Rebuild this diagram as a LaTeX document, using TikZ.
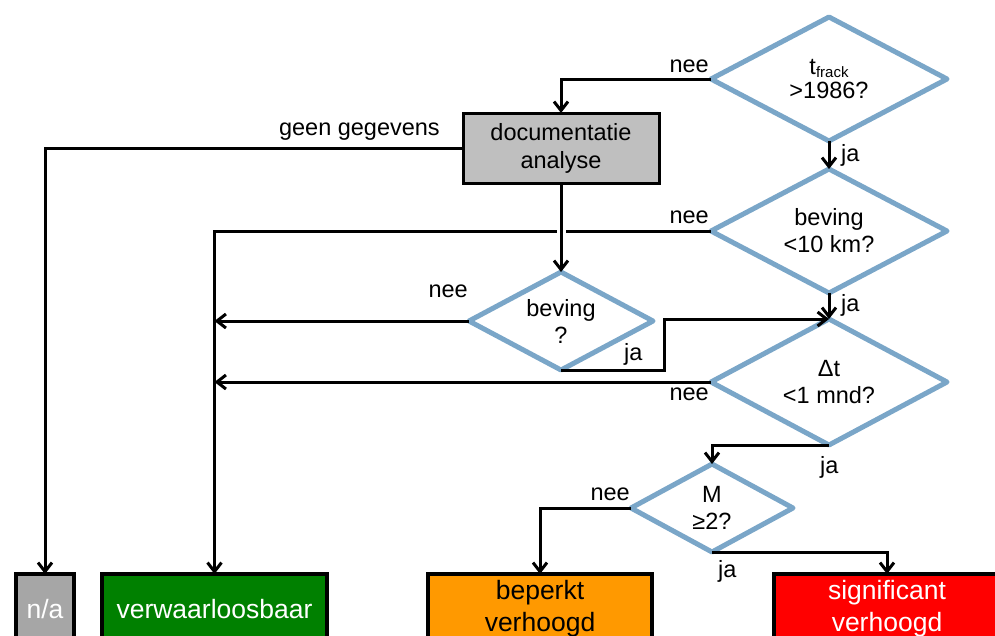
\documentclass[tikz,border=0pt]{standalone}
\usepackage{fontspec}
\setmainfont{Liberation Sans}
\usetikzlibrary{shapes.geometric,arrows.meta}

\definecolor{decisionblue}{RGB}{122,166,200}
\definecolor{docgray}{RGB}{191,191,191}
\definecolor{nagray}{RGB}{166,166,166}
\definecolor{lowgreen}{RGB}{0,128,0}
\definecolor{midorange}{RGB}{255,153,0}
\definecolor{highred}{RGB}{255,0,0}

\tikzset{
  txt/.style={font=\fontsize{23.5}{27}\selectfont},
  decision/.style={diamond, draw=decisionblue, line width=5pt, line join=round,
    aspect=2, inner sep=0pt, outer sep=0pt, align=center, txt},
  process/.style={rectangle, draw=black, line width=3pt, inner sep=0pt,
    outer sep=0pt, align=center, font=\fontsize{23.5}{28}\selectfont},
  outcome/.style={rectangle, draw=black, line width=3.5pt, anchor=north west,
    minimum height=70pt, inner sep=0pt, outer sep=0pt, align=center,
    font=\fontsize{26.5}{32}\selectfont},
  flow/.style={draw=black, line width=3pt, -{Straight Barb[length=9pt,width=14pt]}},
  lbl/.style={txt, inner sep=0pt},
}

\begin{document}
\begin{tikzpicture}[x=1pt,y=-1pt]
\useasboundingbox (0,0) rectangle (995,635);
\clip (0,0) rectangle (995,635);

% decisions
\node[decision, minimum width=236pt, minimum height=124pt] (frack) at (829,79)
  {t\raisebox{-3pt}{\fontsize{15}{15}\selectfont frack}\\[-3pt]>1986?};
\node[decision, minimum width=236pt, minimum height=124pt] (dist) at (829,231)
  {beving\\<10 km?};
\node[decision, minimum width=236pt, minimum height=126pt] (dt) at (829,382)
  {Δt\\<1 mnd?};
\node[decision, minimum width=184pt, minimum height=98pt] (quake) at (561,321)
  {beving\\?};
\node[decision, minimum width=162pt, minimum height=88pt] (mag) at (712,508)
  {M\\≥2?};

% document analysis
\node[process, fill=docgray, minimum width=196pt, minimum height=70pt] (doc) at (561,148)
  {documentatie\\analyse};

% outcomes
\node[outcome, fill=nagray, text=white, minimum width=58pt] (na) at (16,574) {n/a};
\node[outcome, fill=lowgreen, text=white, minimum width=225pt] (low) at (102,574) {verwaarloosbaar};
\node[outcome, fill=midorange, text=black, minimum width=224pt] (mid) at (428,574) {beperkt\\verhoogd};
\node[outcome, fill=highred, text=white, minimum width=226pt] (high) at (774,574) {significant\\verhoogd};

% connectors
\draw[flow] (frack.west) -| (doc.north);
\draw[flow] (frack.south) -- (dist.north);
\draw[flow] (doc.west) -| (na.north);
\draw[flow] (dist.west) -| (low.north);
\path (dist.west -| doc.south) coordinate (cross);
\fill[white] ([xshift=-4.5pt,yshift=-3pt]cross) rectangle ([xshift=4.5pt,yshift=3pt]cross);
\draw[flow] (doc.south) -- (quake.north);
\draw[flow] (dist.south) -- (dt.north);
\draw[flow] (quake.west) -- (quake.west -| low.north);
\draw[flow] (quake.south) -- ++(103,0) |- (dt.north);
\draw[flow] (dt.west) -- (dt.west -| low.north);
\draw[flow] (dt.south) -| (mag.north);
\draw[flow] (mag.west) -| (mid.north);
\draw[flow] (mag.south) -| (high.north);

% branch labels
\node[lbl, anchor=base east] (l1) at (709,72) {nee};
\node[lbl, anchor=base west] (l2) at (841,161) {ja};
\node[lbl, anchor=base east] (l3) at (440,135) {geen gegevens};
\node[lbl, anchor=base east] (l4) at (709,223) {nee};
\node[lbl, anchor=base west] (l5) at (841,311) {ja};
\node[lbl, anchor=base east] (l6) at (468,297) {nee};
\node[lbl, anchor=base west] (l7) at (624,360) {ja};
\node[lbl, anchor=base east] (l8) at (709,400) {nee};
\node[lbl, anchor=base west] (l9) at (820,473) {ja};
\node[lbl, anchor=base east] (l10) at (630,500) {nee};
\node[lbl, anchor=base west] (l11) at (718,577) {ja};
\end{tikzpicture}
\end{document}
